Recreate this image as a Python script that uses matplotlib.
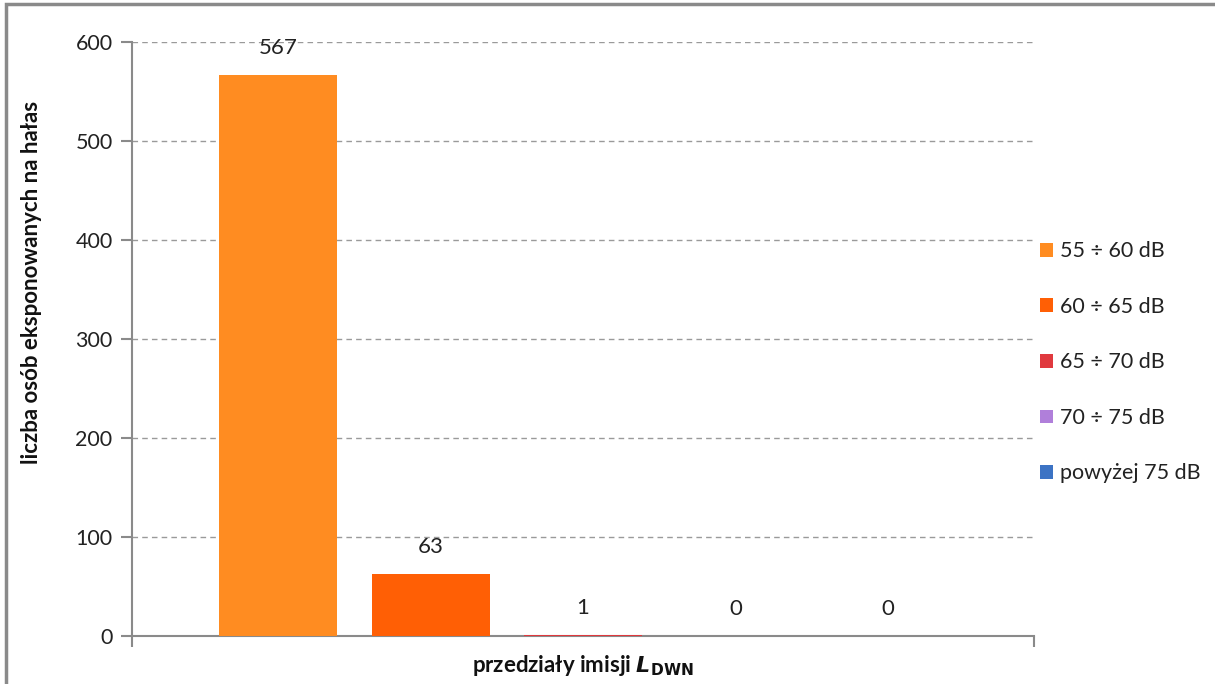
import matplotlib.pyplot as plt
from matplotlib.patches import Rectangle, Patch

# Data
series = ['55 ÷ 60 dB', '60 ÷ 65 dB', '65 ÷ 70 dB', '70 ÷ 75 dB', 'powyżej 75 dB']
values = [567, 63, 1, 0, 0]
colors = ['#FF8C21', '#FF5F05', '#E0393E', '#B07FDA', '#3C73C4']
y_ticks = [0, 100, 200, 300, 400, 500, 600]

plt.rcParams['font.family'] = ['Lato', 'DejaVu Sans']

W, H = 1215, 684
fig = plt.figure(figsize=(W / 100, H / 100), dpi=100)

# outer chart frame (cut off on right and bottom like the original)
fig.patches.append(Rectangle((6 / W, -0.05), 1.2, 1 - 4 / H + 0.05, transform=fig.transFigure,
                             fill=False, edgecolor='#8a8a8a', linewidth=2.5))

ax = fig.add_axes([132 / W, 1 - 636 / H, 902 / W, 594 / H])

positions = [i - 2 for i in range(len(values))]
ax.bar(positions, values, width=0.776, color=colors, zorder=3)
for x, v in zip(positions, values):
    ax.annotate(str(v), (x, v), xytext=(0, 12), textcoords='offset points',
                ha='center', va='bottom', fontsize=16, color='#222222')

ax.set_xlim(-2.96, 2.96)
ax.set_ylim(0, 600)
ax.set_yticks(y_ticks)
ax.set_xticks([-2.96, 2.96])
ax.set_xticklabels(['', ''])
ax.tick_params(axis='x', length=8, width=1.5, color='#8a8a8a', direction='out')
ax.tick_params(axis='y', length=8, width=1.5, color='#8a8a8a', direction='out',
               labelsize=15.5, labelcolor='#222222', pad=6)
ax.yaxis.grid(True, linestyle=(0, (4, 3)), color='#9a9a9a', linewidth=1, zorder=0)

for s in ['top', 'right']:
    ax.spines[s].set_visible(False)
for s in ['left', 'bottom']:
    ax.spines[s].set_color('#8a8a8a')
    ax.spines[s].set_linewidth(1.5)

fig.text(32 / W, 1 - 282 / H, 'liczba osób eksponowanych na hałas', rotation=90,
         ha='center', va='center', fontsize=16, fontweight='bold', color='#111111')
fig.text(583 / W, 1 - 665 / H, r'przedziały imisji $\mathbfit{L}_{\mathbf{DWN}}$',
         ha='center', va='center', fontsize=16, fontweight='bold', color='#111111')

handles = [Patch(facecolor=c, edgecolor='none') for c in colors]
fig.legend(handles, series, loc='upper left', bbox_to_anchor=(1021 / W, 1 - 222 / H),
           frameon=False, fontsize=15.5, handlelength=0.6, handleheight=0.6,
           handletextpad=0.3, labelspacing=1.65, labelcolor='#222222')

fig.savefig('out.png', dpi=100)
